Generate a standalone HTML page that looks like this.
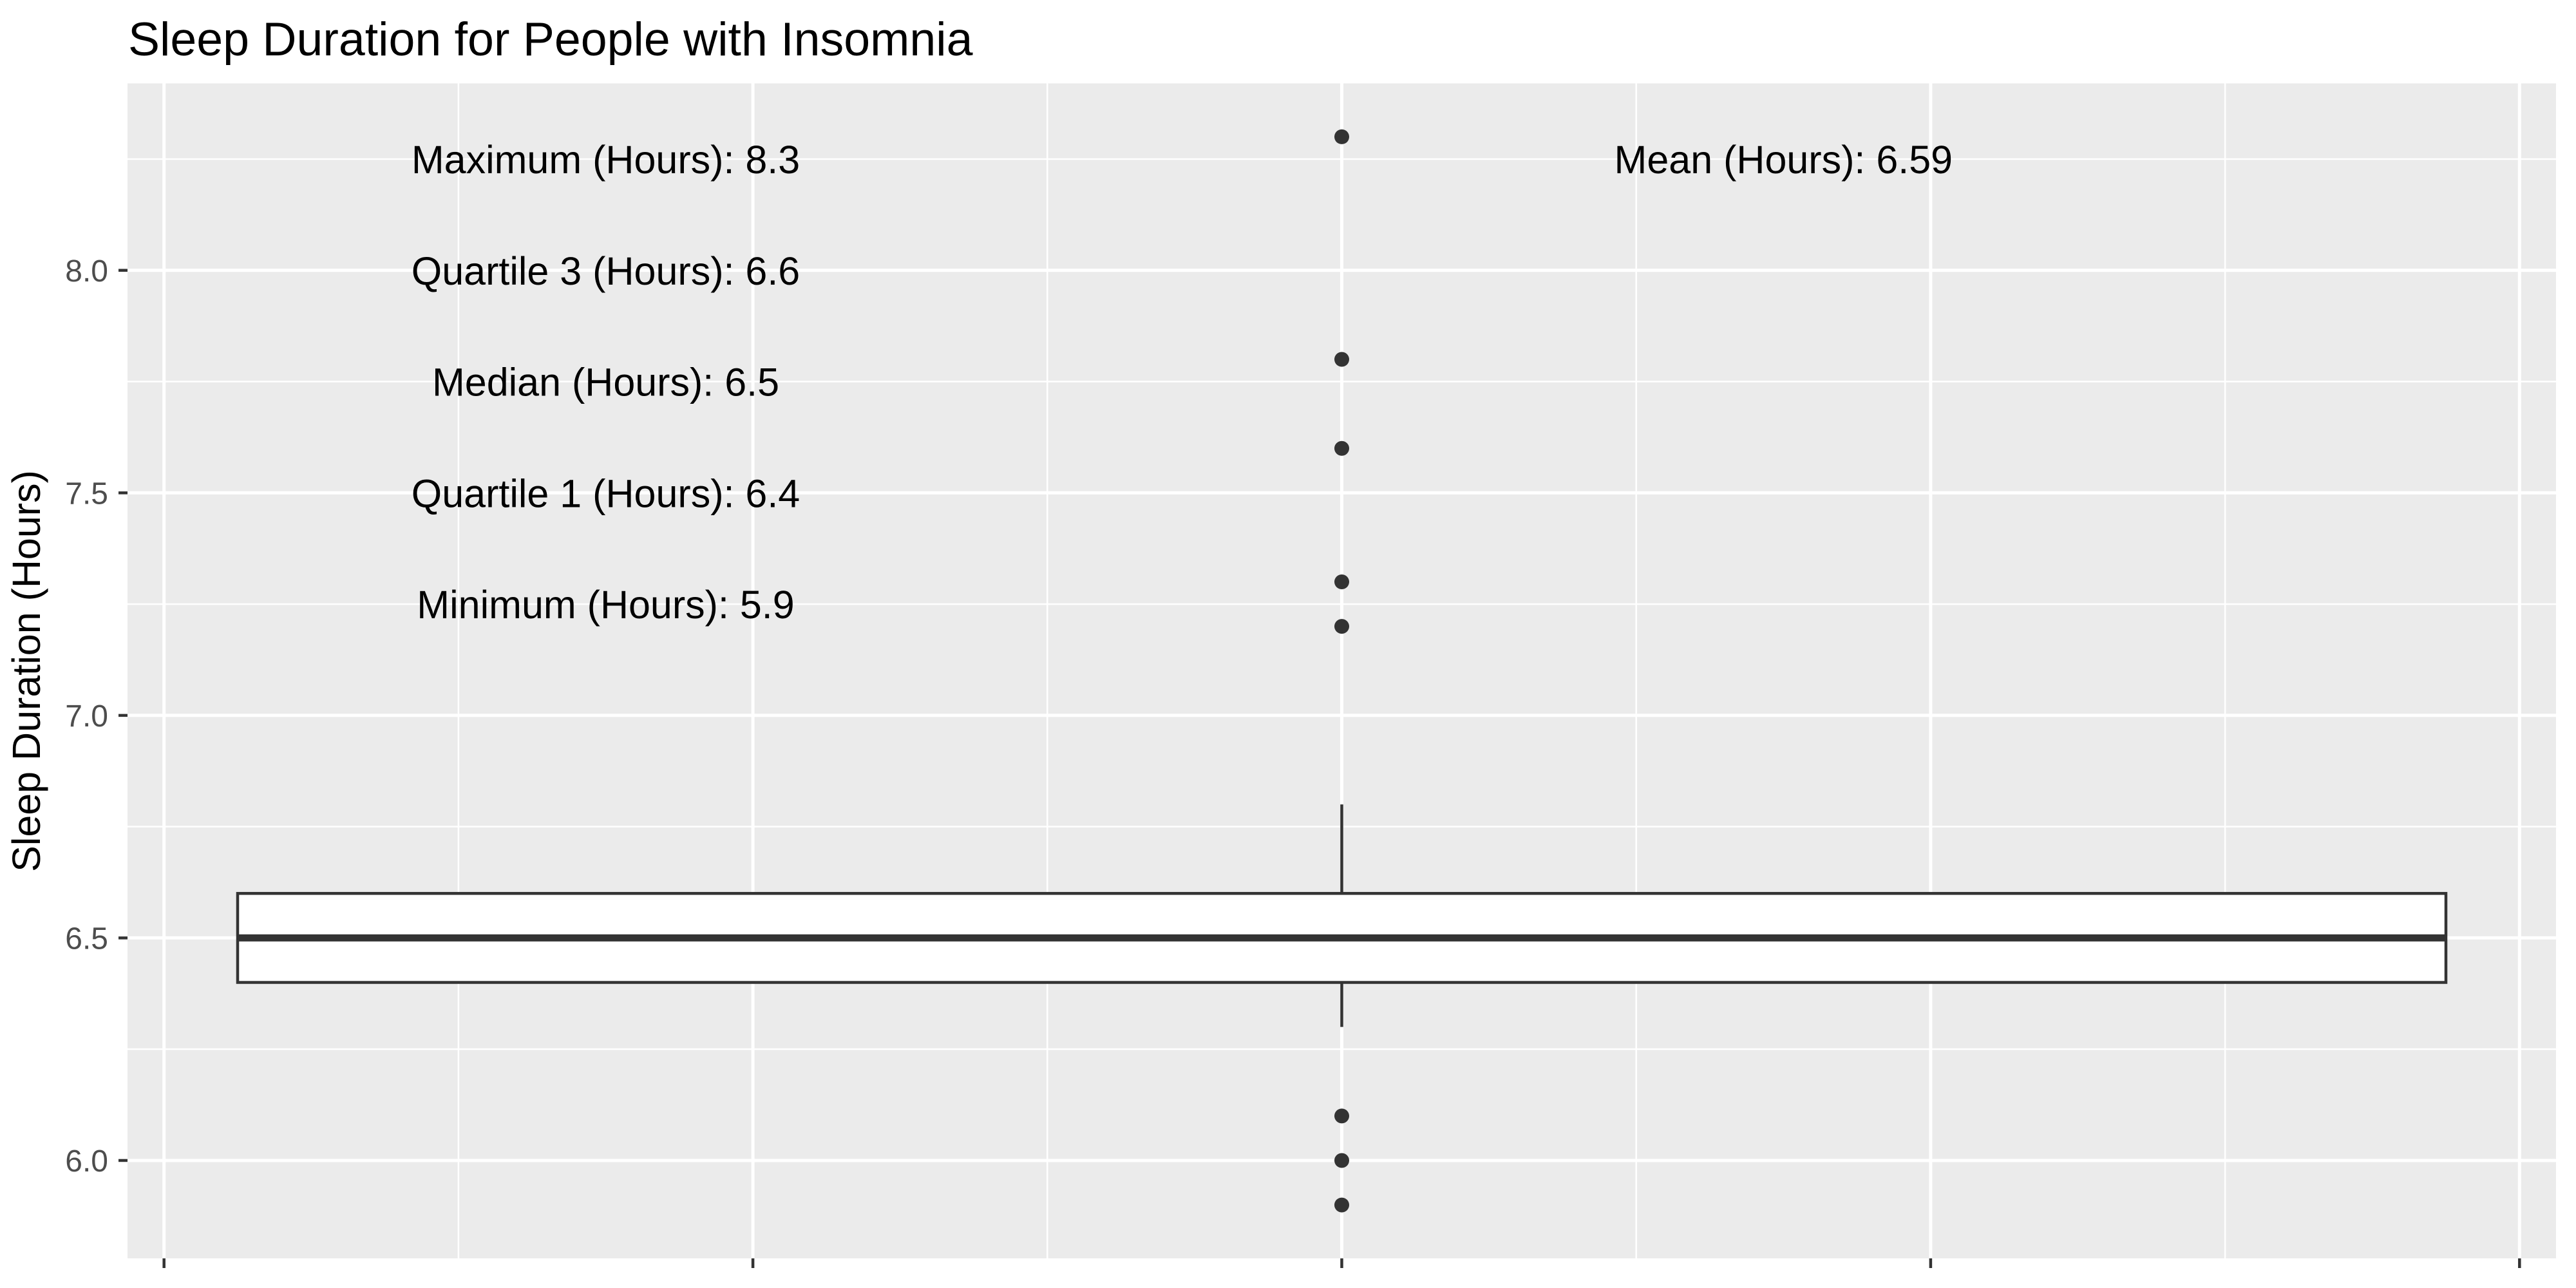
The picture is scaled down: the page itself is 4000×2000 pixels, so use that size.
<!DOCTYPE html>
<html>
<head>
<meta charset="utf-8">
<style>
html,body{margin:0;padding:0;background:#fff;}
svg{display:block;}
text{font-family:"Liberation Sans",Arial,sans-serif;}
</style>
</head>
<body>
<svg id="chart" width="4000" height="2000" viewBox="0 0 4000 2000" xmlns="http://www.w3.org/2000/svg">
  <rect x="0" y="0" width="4000" height="2000" fill="#ffffff"/>
  <text x="199" y="86" font-size="73.5" fill="#000">Sleep Duration for People with Insomnia</text>
  <rect x="198" y="129.5" width="3771" height="1824.5" fill="#ebebeb"/>
  <g id="grid"></g>
  <g id="marks"></g>
  <g id="labels"></g>
  <g id="axes"></g>
  <text transform="translate(62,1042) rotate(-90)" text-anchor="middle" font-size="61" fill="#000">Sleep Duration (Hours)</text>
</svg>
<script>
const yTicks = [6.0, 6.5, 7.0, 7.5, 8.0];
const yTickLabels = ["6.0", "6.5", "7.0", "7.5", "8.0"];
const xTicks = [-0.4, -0.2, 0, 0.2, 0.4];
const boxStats = [6.3, 6.4, 6.5, 6.6, 6.8]; // lower whisker, Q1, median, Q3, upper whisker
const outliers = [8.3, 7.8, 7.6, 7.3, 7.2, 6.1, 6.0, 5.9];
const annotationText = ["Maximum (Hours): 8.3", "Quartile 3 (Hours): 6.6", "Median (Hours): 6.5", "Quartile 1 (Hours): 6.4", "Minimum (Hours): 5.9", "Mean (Hours): 6.59"];
const annotationX = [-0.25, -0.25, -0.25, -0.25, -0.25, 0.15];
const annotationY = [8.25, 8.0, 7.75, 7.5, 7.25, 8.25];

const NS = "http://www.w3.org/2000/svg";
const P = {l:198, r:3969, t:129.5, b:1954};
const yMin = 5.78, yMax = 8.42, xMin = -0.4124, xMax = 0.4124;
function sy(v){ return P.b - (v - yMin) / (yMax - yMin) * (P.b - P.t); }
function sx(v){ return P.l + (v - xMin) / (xMax - xMin) * (P.r - P.l); }
function mk(tag, attrs, parent){
  const e = document.createElementNS(NS, tag);
  for (const k in attrs) e.setAttribute(k, attrs[k]);
  parent.appendChild(e);
  return e;
}
const grid = document.getElementById('grid');
const marks = document.getElementById('marks');
const labels = document.getElementById('labels');
const axes = document.getElementById('axes');

for (let i = 0; i < yTicks.length + 1; i++) {
  const v = (i === 0 ? yTicks[0] - 0.25 : yTicks[i-1] + 0.25);
  if (v < yMin || v > yMax) continue;
  const l = mk('line', {x1:P.l, x2:P.r, y1:sy(v), y2:sy(v), stroke:'#fff', 'stroke-width':2.5}, grid);
  
  
}
for (let i = 0; i < xTicks.length - 1; i++) {
  const v = (xTicks[i] + xTicks[i+1]) / 2;
  const l = mk('line', {x1:sx(v), x2:sx(v), y1:P.t, y2:P.b, stroke:'#fff', 'stroke-width':2.5}, grid);
  
  
}
yTicks.forEach(v => {
  const l = mk('line', {x1:P.l, x2:P.r, y1:sy(v), y2:sy(v), stroke:'#fff', 'stroke-width':5}, grid);
  
  
});
xTicks.forEach(v => {
  const l = mk('line', {x1:sx(v), x2:sx(v), y1:P.t, y2:P.b, stroke:'#fff', 'stroke-width':5}, grid);
  
  
});

const half = 0.375;
const cx = sx(0);
const wu = mk('line', {x1:cx, x2:cx, y1:sy(boxStats[4]), y2:sy(boxStats[3]), stroke:'#333', 'stroke-width':4.5}, marks);


const wl = mk('line', {x1:cx, x2:cx, y1:sy(boxStats[1]), y2:sy(boxStats[0]), stroke:'#333', 'stroke-width':4.5}, marks);


const box = mk('rect', {x:sx(-half), y:sy(boxStats[3]), width:sx(half)-sx(-half), height:sy(boxStats[1])-sy(boxStats[3]), fill:'#fff', stroke:'#333', 'stroke-width':4.5}, marks);


const med = mk('line', {x1:sx(-half), x2:sx(half), y1:sy(boxStats[2]), y2:sy(boxStats[2]), stroke:'#333', 'stroke-width':11}, marks);


outliers.forEach(v => {
  const c = mk('circle', {cx:cx, cy:sy(v), r:11.5, fill:'#333'}, marks);
  
  
});

annotationText.forEach((t, i) => {
  const e = mk('text', {x:sx(annotationX[i]), y:sy(annotationY[i]) + 22, 'text-anchor':'middle', 'font-size':61, fill:'#000'}, labels);
  e.textContent = t;
  
  
});

yTicks.forEach((v, i) => {
  const tk = mk('line', {x1:P.l - 14, x2:P.l, y1:sy(v), y2:sy(v), stroke:'#333', 'stroke-width':4.5}, axes);
  
  
  const lb = mk('text', {x:P.l - 30, y:sy(v) + 17, 'text-anchor':'end', 'font-size':48, fill:'#4d4d4d'}, axes);
  lb.textContent = yTickLabels[i];
  
  
});
xTicks.forEach(v => {
  const tk = mk('line', {x1:sx(v), x2:sx(v), y1:P.b, y2:P.b + 15, stroke:'#333', 'stroke-width':4.5}, axes);
  
  
});
</script>
</body>
</html>
